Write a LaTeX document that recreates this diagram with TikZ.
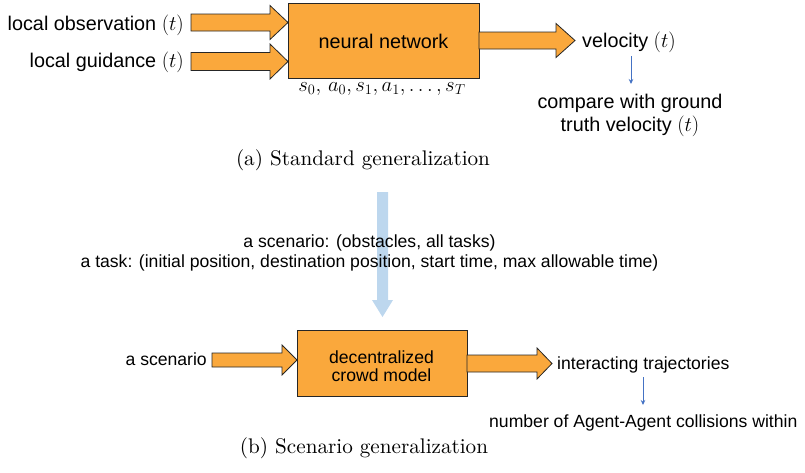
\documentclass[tikz,border=0pt]{standalone}
\usepackage{fontspec}
\setmainfont{Liberation Sans}
\newfontfamily\capfont{Latin Modern Roman}
\usetikzlibrary{arrows.meta}
\definecolor{orng}{RGB}{250,168,60}
\definecolor{lblue}{RGB}{189,215,238}
\definecolor{tblue}{RGB}{68,114,196}
\tikzset{
  big/.style={font=\fontsize{19.8}{23}\selectfont, inner sep=0pt},
  small/.style={font=\fontsize{17.6}{21}\selectfont, inner sep=0pt},
  box/.style={draw=black!85, fill=orng, line width=0.8pt, inner sep=0pt},
  blk/.style={draw=black!85, fill=orng, line width=0.8pt, line join=miter},
  thinarrow/.style={draw=tblue, line width=0.8pt, -{Stealth[length=5pt,width=4.5pt]}},
  captext/.style={font=\capfont, scale=2.115, inner sep=0pt},
}
\newcommand{\blockarrow}[6]{%
  \draw[blk] (#1,#3-#4) -- (#2-#6,#3-#4) -- (#2-#6,#3-#5) -- (#2,#3)
    -- (#2-#6,#3+#5) -- (#2-#6,#3+#4) -- (#1,#3+#4) -- cycle;}
\begin{document}
\begin{tikzpicture}[x=1pt,y=-1pt]
\useasboundingbox (0,0) rectangle (805,472);
% ---------- (a) ----------
\node[big, anchor=base east] (lo) at (184,30) {local observation $(t)$};
\node[big, anchor=base east] (lg) at (184,67) {local guidance $(t)$};
\node[box, minimum width=191pt, minimum height=75pt] (nn) at (383.5,40.5) {};
\node[big, anchor=base] (nnt) at (383.5,48) {neural network};
\node[font=\fontsize{20}{23}\selectfont, inner sep=0pt, anchor=base] (seq) at (382,91) {$s_0,\,a_0, s_1, a_1, \ldots, s_T$};
\blockarrow{191}{288}{22.5}{8.5}{17}{18}
\blockarrow{191}{288}{61.5}{9}{17.5}{18}
\blockarrow{479}{575}{40.5}{8.5}{17}{19}
\node[big, anchor=base west] (vel) at (582,47) {velocity $(t)$};
\node[big, anchor=base] (cmp1) at (630,108) {compare with ground};
\node[big, anchor=base] (cmp2) at (630,131) {truth velocity $(t)$};
\coordinate (v1) at (631,56);
\coordinate (v2) at (631,84);
\draw[thinarrow] (v1) -- (v2);
\node[captext, anchor=base] (capa) at (363,165) {(a) Standard generalization};
% ---------- middle ----------
\fill[lblue] (377,192) -- (388,192) -- (388,300) -- (393,300) -- (382.5,317)
  -- (372,300) -- (377,300) -- cycle;
\node[small, anchor=base] (sc1) at (369.5,247) {a scenario: (obstacles, all tasks)};
\node[small, anchor=base] (sc2) at (369.5,267) {a task: (initial position, destination position, start time, max allowable time)};
% ---------- (b) ----------
\node[box, minimum width=170pt, minimum height=66pt] (dcm) at (382,363) {};
\node[small, anchor=base] (dcm1) at (381.5,363) {decentralized};
\node[small, anchor=base] (dcm2) at (381.5,381) {crowd model};
\node[small, anchor=base east] (sin) at (207,365) {a scenario};
\blockarrow{212}{297}{360}{7}{15}{15}
\blockarrow{467}{552}{363.5}{8.5}{15.5}{15}
\node[small, anchor=base west] (itr) at (557,369) {interacting trajectories};
\coordinate (t1) at (643,377);
\coordinate (t2) at (643,405);
\draw[thinarrow] (t1) -- (t2);
\node[small, anchor=base west] (ncol) at (489,427) {number of Agent-Agent collisions within};
\node[captext, anchor=base] (capb) at (364,453) {(b) Scenario generalization};
\end{tikzpicture}
\end{document}
